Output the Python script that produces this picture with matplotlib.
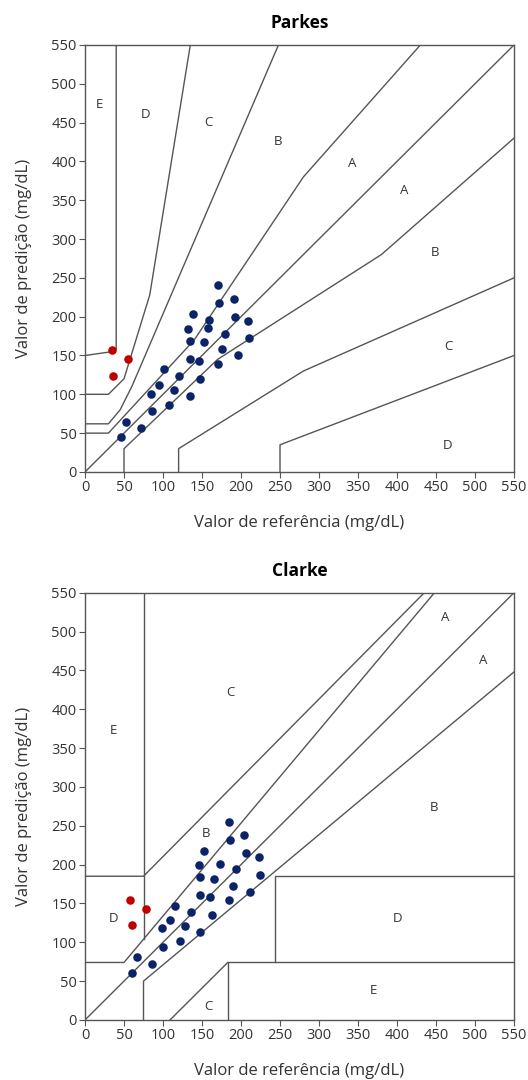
import matplotlib.pyplot as plt

plt.rcParams['font.family'] = ['Open Sans', 'DejaVu Sans']

# --- Parkes panel: reference vs predicted (mg/dL) ---
parkes_blue_x = [171, 172, 191, 138, 159, 158, 132, 192, 209, 179, 134, 152, 210, 176, 135,
                 146, 196, 170, 101, 121, 148, 95, 114, 85, 135, 108, 86, 52, 72, 46]
parkes_blue_y = [241, 217, 223, 204, 196, 186, 184, 200, 195, 178, 169, 167, 172, 158, 146,
                 143, 150, 139, 132, 123, 120, 112, 106, 101, 98, 86, 78, 64, 57, 45]
parkes_red_x = [35, 55, 36]
parkes_red_y = [157, 145, 124]

# --- Clarke panel ---
clarke_blue_x = [185, 204, 186, 153, 206, 223, 146, 173, 193, 224, 148, 166, 190, 211, 148,
                 160, 185, 115, 136, 163, 109, 99, 128, 148, 100, 122, 67, 86, 60]
clarke_blue_y = [255, 238, 232, 218, 215, 210, 199, 201, 194, 187, 184, 182, 173, 165, 161,
                 158, 154, 147, 139, 135, 129, 118, 121, 113, 94, 102, 81, 72, 61]
clarke_red_x = [58, 78, 60]
clarke_red_y = [155, 143, 122]

# zone boundaries, (x, y) vertices
identity = [(0, 0), (550, 550)]
parkes_lines = [
    [(0, 150), (35, 155), (40, 158), (40, 550)],
    [(0, 100), (30, 100), (50, 120), (83, 228), (135, 550)],
    [(0, 62), (30, 62), (45, 80), (60, 110), (248, 550)],
    [(0, 50), (30, 50), (140, 170), (280, 380), (430, 550)],
    identity,
    [(50, 0), (50, 30), (170, 145), (380, 280), (550, 430)],
    [(120, 0), (120, 30), (280, 130), (550, 250)],
    [(250, 0), (250, 35), (550, 150)],
]
clarke_lines = [
    [(0, 74), (50, 74), (448, 550)],
    [(75, 0), (75, 50), (550, 448)],
    identity,
    [(0, 185), (75, 185), (435, 550)],
    [(75, 104), (75, 550)],
    [(109, 0), (183, 74)],
    [(183, 0), (183, 74), (550, 74)],
    [(244, 74), (244, 185), (550, 185)],
]

parkes_labels = [("E", 19, 473), ("D", 77, 461), ("C", 158, 450), ("B", 248, 426),
                 ("A", 343, 397), ("A", 409, 362), ("B", 449, 283), ("C", 466, 161),
                 ("D", 465, 34)]
clarke_labels = [("A", 462, 518), ("A", 511, 463), ("C", 186, 422), ("E", 36, 373),
                 ("B", 447, 274), ("B", 155, 240), ("D", 36, 131), ("D", 400, 131),
                 ("E", 370, 38), ("C", 158, 17)]

NAVY = "#0b2468"
RED = "#c00000"
LINE = "#555555"
TXT = "#333333"

fig = plt.figure(figsize=(5.28, 10.8), dpi=100)
ax1 = fig.add_axes([0.161, 0.563, 0.8125, 0.3954])
ax2 = fig.add_axes([0.161, 0.0556, 0.8125, 0.3956])


def draw_panel(ax, title, lines, labels, bx, by, rx, ry):
    for ln in lines:
        ax.plot([p[0] for p in ln], [p[1] for p in ln], color=LINE, lw=1.0, zorder=1)
    for txt, x, y in labels:
        ax.text(x, y, txt, ha="center", va="center", fontsize=9.5, color=TXT)
    ax.scatter(bx, by, s=38, color=NAVY, zorder=3, linewidths=0)
    ax.scatter(rx, ry, s=38, color=RED, zorder=3, linewidths=0)
    ax.set_xlim(0, 550)
    ax.set_ylim(0, 550)
    ax.set_xticks(range(0, 551, 50))
    ax.set_yticks(range(0, 551, 50))
    ax.tick_params(labelsize=10.5, length=4, color=LINE, labelcolor=TXT, pad=2)
    for sp in ax.spines.values():
        sp.set_color(LINE)
        sp.set_linewidth(1.0)
    ax.set_xlabel("Valor de referência (mg/dL)", fontsize=12, color=TXT, labelpad=14)
    ax.set_ylabel("Valor de predição (mg/dL)", fontsize=12, color=TXT, labelpad=14)
    ax.set_title(title, fontsize=12.5, fontweight="bold", pad=12)


draw_panel(ax1, "Parkes", parkes_lines, parkes_labels,
           parkes_blue_x, parkes_blue_y, parkes_red_x, parkes_red_y)
draw_panel(ax2, "Clarke", clarke_lines, clarke_labels,
           clarke_blue_x, clarke_blue_y, clarke_red_x, clarke_red_y)

fig.savefig("out.png", dpi=100)
